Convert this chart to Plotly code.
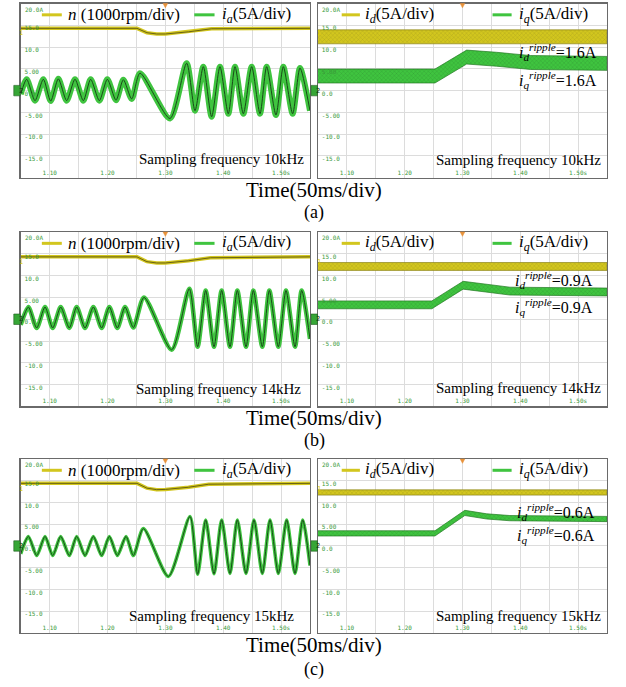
import plotly.graph_objects as go

# ---------------- data ----------------
T_RANGE = [1.05, 1.55]
Y_RANGE = [-20, 20]
x_tick_vals = [1.10, 1.20, 1.30, 1.40, 1.50]
x_tick_text = ["1.10", "1.20", "1.30", "1.40", "1.50s"]
x_grid_vals = [1.05, 1.15, 1.25, 1.35, 1.45, 1.55]
y_tick_vals = [-15, -10, -5, 0, 5, 10, 15]
y_tick_text = ["-15.0", "-10.0", "-5.00", "0.0", "5.00", "10.0", "15.0"]
y_top_val = 20
y_top_text = "20.0A"
trigger_t = 1.30

panel_labels = ["(a)", "(b)", "(c)"]
sampling_freq = ["10kHz", "14kHz", "15kHz"]
ripple_d = [1.6, 0.9, 0.6]
ripple_q = [1.6, 0.9, 0.6]

# speed n (1000 rpm/div, screen units)
n_t_a = [1.05, 1.251, 1.268, 1.285, 1.30, 1.34, 1.38, 1.55]
n_v_a = [14.3, 14.3, 13.3, 13.0, 13.0, 13.5, 14.2, 14.3]
n_t_b = [1.05, 1.251, 1.268, 1.285, 1.30, 1.34, 1.378, 1.55]
n_v_b = [14.3, 14.3, 13.2, 12.9, 12.9, 13.4, 14.1, 14.3]
n_t_c = [1.05, 1.251, 1.268, 1.285, 1.30, 1.34, 1.375, 1.55]
n_v_c = [14.4, 14.4, 13.3, 12.95, 13.0, 13.5, 14.2, 14.4]

# phase current i_a (peaks / troughs)
ia_t_a = [1.05, 1.0603, 1.0747, 1.0891, 1.1018, 1.1150, 1.1294, 1.1438, 1.1582, 1.1709,
          1.1859, 1.1997, 1.2147, 1.2274, 1.2418, 1.2562, 1.3080, 1.3368, 1.3512, 1.3656,
          1.3800, 1.3944, 1.4088, 1.4204, 1.4348, 1.4492, 1.4636, 1.4751, 1.4912, 1.5039,
          1.5200, 1.5327, 1.55]
ia_v_a = [-0.8, 2.6, -2.3, 2.6, -2.4, 2.7, -2.3, 2.6, -2.3, 2.6,
          -2.3, 2.6, -2.2, 2.5, -1.9, 4.0, -6.4, 6.3, -4.6, 5.5,
          -6.0, 5.5, -5.3, 5.5, -5.3, 5.5, -5.3, 5.5, -5.6, 5.5,
          -5.3, 5.2, -4.6]
ia_t_b = [1.05, 1.0632, 1.0776, 1.0920, 1.1053, 1.1191, 1.1340, 1.1467, 1.1611, 1.1755,
          1.1899, 1.2032, 1.2170, 1.2303, 1.2447, 1.2631, 1.3109, 1.3414, 1.3558, 1.3697,
          1.3841, 1.3973, 1.4117, 1.4244, 1.4394, 1.4521, 1.4676, 1.4797, 1.4953, 1.5085,
          1.5241, 1.5356, 1.55]
ia_v_b = [-1.3, 2.8, -2.0, 2.8, -2.0, 2.8, -2.0, 2.8, -2.0, 2.8,
          -2.0, 2.8, -2.0, 2.8, -1.9, 5.0, -7.0, 7.0, -6.3, 6.6,
          -6.3, 6.6, -6.3, 6.6, -6.3, 6.6, -6.3, 6.6, -6.3, 6.6,
          -6.3, 6.6, -4.5]
ia_t_c = [1.05, 1.0632, 1.0776, 1.0920, 1.1053, 1.1191, 1.1340, 1.1467, 1.1611, 1.1755,
          1.1899, 1.2032, 1.2170, 1.2320, 1.2447, 1.2620, 1.3052, 1.3426, 1.3558, 1.3697,
          1.3841, 1.3973, 1.4117, 1.4244, 1.4394, 1.4532, 1.4676, 1.4809, 1.4953, 1.5097,
          1.5241, 1.5374, 1.55]
ia_v_c = [-1.8, 2.2, -2.2, 2.2, -2.2, 2.2, -2.2, 2.2, -2.2, 2.2,
          -2.2, 2.2, -2.2, 2.2, -2.2, 4.0, -7.0, 6.8, -6.5, 6.0,
          -6.4, 6.0, -6.3, 6.0, -6.3, 6.0, -6.3, 6.0, -6.3, 6.0,
          -6.3, 6.0, -4.5]

# d-axis current
id_t = [1.05, 1.55]
id_v_a = [12.35, 12.35]
id_v_b = [12.1, 12.1]
id_v_c = [12.3, 12.3]

# q-axis current
iq_t_a = [1.05, 1.2524, 1.3072, 1.359, 1.418, 1.55]
iq_v_a = [3.35, 3.35, 7.7, 7.2, 6.45, 6.25]
iq_t_b = [1.05, 1.247, 1.301, 1.342, 1.382, 1.55]
iq_v_b = [3.3, 3.3, 7.8, 7.1, 6.45, 6.25]
iq_t_c = [1.05, 1.2524, 1.304, 1.342, 1.382, 1.55]
iq_v_c = [2.9, 2.9, 7.6, 6.8, 6.4, 6.2]

# ---------------- styling ----------------
W, H = 626, 687
SERIF = "Liberation Serif, Times New Roman, serif"
MONO = "DejaVu Sans Mono, monospace"
TICK_GREEN = "#3a9a3a"
YEL = "#d2c61e"
YEL_DARK = "#5e5712"
GRN = "#3fc43f"
GRN_DARK = "#1a4a1a"
GRID = "#dcdcdc"

LEFT_X = [0.0331, 0.4952]
RIGHT_X = [0.5080, 0.9696]
ROW_Y = [[0.7413, 0.9949], [0.4083, 0.6623], [0.0786, 0.3319]]
TIME_Y = [0.7234, 0.3916, 0.0611]
LAB_Y = [0.6900, 0.3581, 0.0262]
SAMP_L = [(0.986, 0.107), (0.977, 0.100), (0.950, 0.100)]
SAMP_R = [(0.987, 0.100), (0.987, 0.105), (0.987, 0.100)]
RIP_D = [(0.972, 0.723), (0.958, 0.725), (0.964, 0.697)]
RIP_Q = [(0.972, 0.561), (0.958, 0.572), (0.964, 0.563)]
IA_W = [6, 4.5, 3.5]

rows = [
    dict(n_t=n_t_a, n_v=n_v_a, ia_t=ia_t_a, ia_v=ia_v_a, id_v=id_v_a, iq_t=iq_t_a, iq_v=iq_v_a),
    dict(n_t=n_t_b, n_v=n_v_b, ia_t=ia_t_b, ia_v=ia_v_b, id_v=id_v_b, iq_t=iq_t_b, iq_v=iq_v_b),
    dict(n_t=n_t_c, n_v=n_v_c, ia_t=ia_t_c, ia_v=ia_v_c, id_v=id_v_c, iq_t=iq_t_c, iq_v=iq_v_c),
]

fig = go.Figure()
shapes = []
annotations = []


def band(t, v, r):
    xs = list(t) + list(t)[::-1]
    ys = [a + r for a in v] + [a - r for a in v][::-1]
    return xs, ys


def axis_layout(ax_idx, xdom, ydom):
    xs = "" if ax_idx == 1 else str(ax_idx)
    xa = dict(domain=xdom, range=T_RANGE, anchor="y" + xs,
              tickmode="array", tickvals=x_tick_vals, ticktext=x_tick_text,
              ticklabelposition="inside", ticks="",
              tickfont=dict(family=MONO, size=6, color=TICK_GREEN),
              showgrid=True, gridcolor=GRID, gridwidth=1,
              minor=dict(tickvals=x_grid_vals, showgrid=True, gridcolor=GRID, ticks=""),
              showline=True, mirror=True, linecolor="#6a6a6a", linewidth=1.3,
              zeroline=False, fixedrange=True)
    ya = dict(domain=ydom, range=Y_RANGE, anchor="x" + xs,
              tickmode="array", tickvals=y_tick_vals, ticktext=y_tick_text,
              ticklabelposition="inside", ticks="", ticklabelshift=3, ticklabelstandoff=2,
              tickfont=dict(family=MONO, size=6, color=TICK_GREEN),
              showgrid=True, gridcolor=GRID, gridwidth=1,
              showline=True, mirror=True, linecolor="#6a6a6a", linewidth=1.3,
              zeroline=False, fixedrange=True)
    return xa, ya


layout_axes = {}
for r, d in enumerate(rows):
    li = 2 * r + 1
    ri = 2 * r + 2
    for idx, xdom in ((li, LEFT_X), (ri, RIGHT_X)):
        xa, ya = axis_layout(idx, xdom, ROW_Y[r])
        key = "" if idx == 1 else str(idx)
        layout_axes["xaxis" + key] = xa
        layout_axes["yaxis" + key] = ya
    lx = "x" if li == 1 else "x" + str(li)
    ly = "y" if li == 1 else "y" + str(li)
    rx, ry = "x" + str(ri), "y" + str(ri)

    # ---- left panel: speed and phase current ----
    fig.add_trace(go.Scatter(x=d["n_t"], y=d["n_v"], mode="lines", xaxis=lx, yaxis=ly,
                             line=dict(color=YEL, width=3.5), hoverinfo="skip", showlegend=False))
    fig.add_trace(go.Scatter(x=d["n_t"], y=d["n_v"], mode="lines", xaxis=lx, yaxis=ly,
                             line=dict(color=YEL_DARK, width=0.9), hoverinfo="skip", showlegend=False))
    fig.add_trace(go.Scatter(x=d["ia_t"], y=d["ia_v"], mode="lines", xaxis=lx, yaxis=ly,
                             line=dict(color=GRN, width=IA_W[r], shape="spline", smoothing=0.7),
                             hoverinfo="skip", showlegend=False))
    fig.add_trace(go.Scatter(x=d["ia_t"], y=d["ia_v"], mode="lines", xaxis=lx, yaxis=ly,
                             line=dict(color=GRN_DARK, width=1.0, shape="spline", smoothing=0.7),
                             hoverinfo="skip", showlegend=False))

    # ---- right panel: id and iq with ripple band ----
    bx, by = band(id_t, d["id_v"], ripple_d[r])
    fig.add_trace(go.Scatter(x=bx, y=by, mode="lines", fill="toself", xaxis=rx, yaxis=ry,
                             line=dict(color="#8a8218", width=0.7),
                             fillcolor=YEL,
                             fillpattern=dict(shape="x", fgcolor="#7a7320", bgcolor=YEL,
                                              size=3, solidity=0.2),
                             hoverinfo="skip", showlegend=False))
    bx, by = band(d["iq_t"], d["iq_v"], ripple_q[r])
    fig.add_trace(go.Scatter(x=bx, y=by, mode="lines", fill="toself", xaxis=rx, yaxis=ry,
                             line=dict(color="#247a24", width=0.7),
                             fillcolor=GRN,
                             fillpattern=dict(shape="x", fgcolor="#22662a", bgcolor=GRN,
                                              size=3, solidity=0.2),
                             hoverinfo="skip", showlegend=False))

    # ---- legends ----
    for axn, items in ((li, [("<i>n</i> (1000rpm/div)", YEL, 0.073, 0.142, 0.158),
                             ("<i>i</i><sub><i>a</i></sub>(5A/div)", GRN, 0.600, 0.670, 0.688)]),
                       (ri, [("<i>i</i><sub><i>d</i></sub>(5A/div)", YEL, 0.082, 0.145, 0.157),
                             ("<i>i</i><sub><i>q</i></sub>(5A/div)", GRN, 0.604, 0.670, 0.690)])):
        xref = ("x" if axn == 1 else "x" + str(axn)) + " domain"
        yref = ("y" if axn == 1 else "y" + str(axn)) + " domain"
        for txt, col, s0, s1, tx in items:
            shapes.append(dict(type="line", xref=xref, yref=yref, x0=s0, x1=s1, y0=0.935, y1=0.935,
                               line=dict(color=col, width=3)))
            annotations.append(dict(text=txt, xref=xref, yref=yref, x=tx, y=0.935,
                                    xanchor="left", yanchor="middle", showarrow=False,
                                    font=dict(family=SERIF, size=17, color="black")))

    # ---- sampling frequency ----
    for axn, (sx, sy) in ((li, SAMP_L[r]), (ri, SAMP_R[r])):
        xref = ("x" if axn == 1 else "x" + str(axn)) + " domain"
        yref = ("y" if axn == 1 else "y" + str(axn)) + " domain"
        annotations.append(dict(text="Sampling frequency " + sampling_freq[r], xref=xref, yref=yref,
                                x=sx, y=sy, xanchor="right", yanchor="middle", showarrow=False,
                                font=dict(family=SERIF, size=15, color="black")))

    # ---- ripple labels ----
    rxr, ryr = rx + " domain", ry + " domain"
    annotations.append(dict(text="<i>i</i><sub><i>d</i></sub><sup><i>ripple</i></sup>=%.1fA" % ripple_d[r],
                            xref=rxr, yref=ryr, x=RIP_D[r][0], y=RIP_D[r][1], xanchor="right",
                            yanchor="middle", showarrow=False,
                            font=dict(family=SERIF, size=16, color="black")))
    annotations.append(dict(text="<i>i</i><sub><i>q</i></sub><sup><i>ripple</i></sup>=%.1fA" % ripple_q[r],
                            xref=rxr, yref=ryr, x=RIP_Q[r][0], y=RIP_Q[r][1], xanchor="right",
                            yanchor="middle", showarrow=False,
                            font=dict(family=SERIF, size=16, color="black")))

    # ---- top tick label and oscilloscope channel markers ----
    for axn in (li, ri):
        xd = ("x" if axn == 1 else "x" + str(axn)) + " domain"
        xa_ = "x" if axn == 1 else "x" + str(axn)
        yref = "y" if axn == 1 else "y" + str(axn)
        annotations.append(dict(text=y_top_text, xref=xd, yref=yref, x=0.008, y=y_top_val,
                                xanchor="left", yanchor="top", showarrow=False,
                                font=dict(family=MONO, size=6, color=TICK_GREEN)))
        shapes.append(dict(type="rect", xref=xd, yref=yref, x0=-0.024, x1=-0.002, y0=-1.2, y1=1.2,
                           fillcolor="#36a636", line=dict(color="#1d5a1d", width=0.6)))
        annotations.append(dict(text="2", xref=xd, yref=yref, x=-0.013, y=0, showarrow=False,
                                font=dict(family=MONO, size=7, color="#0d3a0d")))
        annotations.append(dict(text="1", xref=xd, yref=yref, x=-0.012, y=13.2, showarrow=False,
                                font=dict(family=MONO, size=7, color="#e0cc00")))
        # trigger marker (small orange triangle on the top border)
        shapes.append(dict(type="path", xref=xa_, yref=yref + " domain",
                           path="M %.4f,1.0 L %.4f,1.0 L %.4f,0.975 Z" % (trigger_t - 0.004, trigger_t + 0.004, trigger_t),
                           fillcolor="#e8923a", line=dict(color="#e8923a", width=0.5)))

    # ---- row captions ----
    annotations.append(dict(text="Time(50ms/div)", xref="paper", yref="paper", x=0.502, y=TIME_Y[r],
                            xanchor="center", yanchor="middle", showarrow=False,
                            font=dict(family=SERIF, size=21, color="black")))
    annotations.append(dict(text=panel_labels[r], xref="paper", yref="paper", x=0.502, y=LAB_Y[r],
                            xanchor="center", yanchor="middle", showarrow=False,
                            font=dict(family=SERIF, size=18, color="black")))

fig.update_layout(width=W, height=H, margin=dict(l=0, r=0, t=0, b=0),
                  paper_bgcolor="white", plot_bgcolor="white", hovermode=False,
                  showlegend=False, shapes=shapes, annotations=annotations, **layout_axes)

fig.write_html("out.html", config={"displayModeBar": False, "staticPlot": True},
               post_script="document.body.style.margin='0';document.body.style.overflow='hidden';")
